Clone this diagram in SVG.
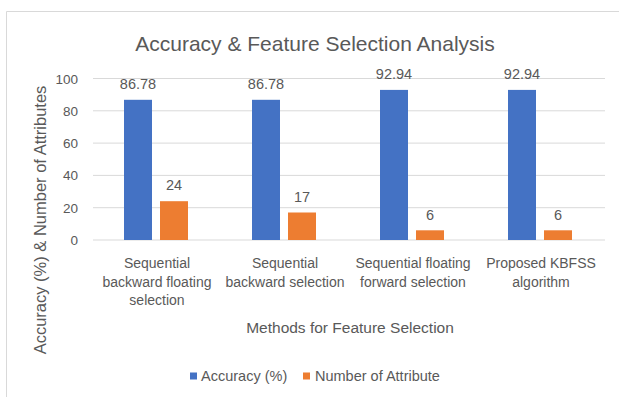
<svg xmlns="http://www.w3.org/2000/svg" width="619" height="397" viewBox="0 0 619 397">
  <style>
    text { font-family: "Liberation Sans", Arial, sans-serif; fill: #595959; }
    .title { font-size: 21px; text-anchor: middle; }
    .tick { font-size: 13.5px; text-anchor: end; }
    .val { font-size: 14.5px; text-anchor: middle; }
    .cat { font-size: 14px; text-anchor: middle; }
    .axis { font-size: 15.5px; text-anchor: middle; }
    .vaxis { font-size: 16.5px; text-anchor: middle; }
    .leg { font-size: 14.5px; }
    .grid line { stroke: #d9d9d9; stroke-width: 1; }
    .acc { fill: #4472c4; }
    .attr { fill: #ed7d31; }
  </style>

  <!-- chart area -->
  <rect x="0" y="0" width="619" height="397" fill="#ffffff"/>
  <path d="M6.5 397 V11.5 H619" fill="none" stroke="#d9d9d9" stroke-width="1"/>

  <text class="title" x="315" y="51">Accuracy &amp; Feature Selection Analysis</text>

  <!-- value axis gridlines -->
  <g class="grid">
    <line x1="93" y1="78.5" x2="605" y2="78.5"/>
    <line x1="93" y1="110.8" x2="605" y2="110.8"/>
    <line x1="93" y1="143.1" x2="605" y2="143.1"/>
    <line x1="93" y1="175.4" x2="605" y2="175.4"/>
    <line x1="93" y1="207.7" x2="605" y2="207.7"/>
    <line x1="93" y1="240" x2="605" y2="240"/>
  </g>

  <!-- value axis labels -->
  <g id="value-axis">
    <text class="tick" x="78" y="83.5">100</text>
    <text class="tick" x="78" y="115.8">80</text>
    <text class="tick" x="78" y="148.1">60</text>
    <text class="tick" x="78" y="180.4">40</text>
    <text class="tick" x="78" y="212.7">20</text>
    <text class="tick" x="78" y="245">0</text>
    <text class="vaxis" transform="translate(46 220) rotate(-90)">Accuracy (%) &amp; Number of Attributes</text>
  </g>

  <!-- bars: 1.615 px per unit, baseline y=240 -->
  <g id="sbfs">
    <rect class="acc" x="124" y="99.8" width="28" height="140.2"/>
    <rect class="attr" x="160" y="201.2" width="28" height="38.8"/>
    <text class="val" x="138" y="89">86.78</text>
    <text class="val" x="174" y="190">24</text>
    <text class="cat" x="157" y="268">Sequential</text>
    <text class="cat" x="157" y="286.5">backward floating</text>
    <text class="cat" x="157" y="305">selection</text>
  </g>

  <g id="sbs">
    <rect class="acc" x="252" y="99.8" width="28" height="140.2"/>
    <rect class="attr" x="288" y="212.5" width="28" height="27.5"/>
    <text class="val" x="266" y="89">86.78</text>
    <text class="val" x="302" y="201.5">17</text>
    <text class="cat" x="285" y="268">Sequential</text>
    <text class="cat" x="285" y="286.5">backward selection</text>
  </g>

  <g id="sffs">
    <rect class="acc" x="380" y="89.9" width="28" height="150.1"/>
    <rect class="attr" x="416" y="230.3" width="28" height="9.7"/>
    <text class="val" x="394" y="79">92.94</text>
    <text class="val" x="430" y="219.5">6</text>
    <text class="cat" x="413" y="268">Sequential floating</text>
    <text class="cat" x="413" y="286.5">forward selection</text>
  </g>

  <g id="kbfss">
    <rect class="acc" x="508" y="89.9" width="28" height="150.1"/>
    <rect class="attr" x="544" y="230.3" width="28" height="9.7"/>
    <text class="val" x="522" y="79">92.94</text>
    <text class="val" x="558" y="219.5">6</text>
    <text class="cat" x="541" y="268">Proposed KBFSS</text>
    <text class="cat" x="541" y="286.5">algorithm</text>
  </g>

  <g id="connectors"></g>

  <text class="axis" x="350" y="333">Methods for Feature Selection</text>

  <!-- legend -->
  <g id="legend">
    <rect class="acc" x="190" y="372.5" width="7" height="7"/>
    <text class="leg" x="201" y="381">Accuracy (%)</text>
    <rect class="attr" x="303" y="372.5" width="7" height="7"/>
    <text class="leg" x="315" y="381">Number of Attribute</text>
  </g>
</svg>
